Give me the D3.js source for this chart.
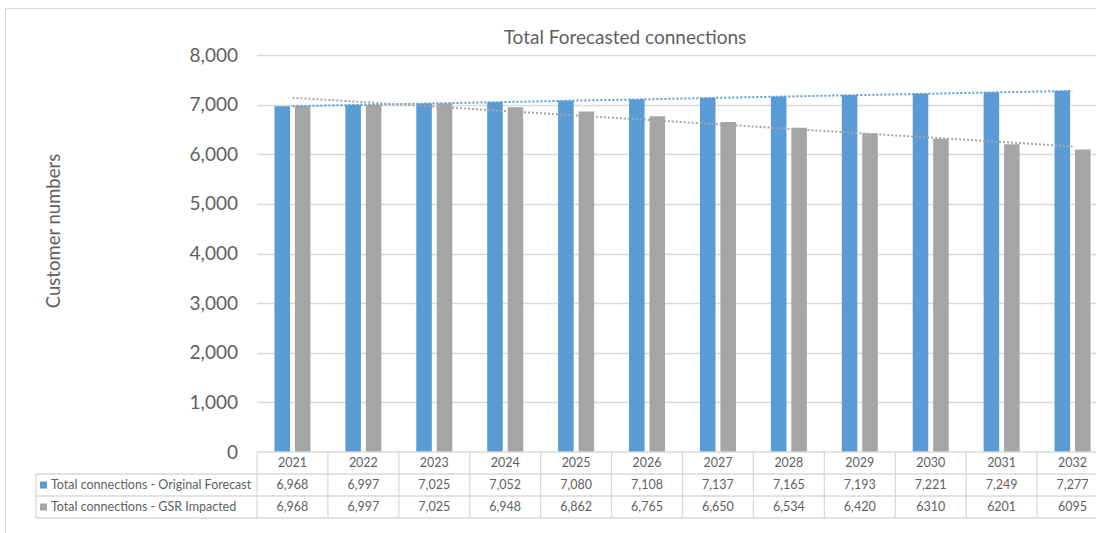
<!DOCTYPE html>
<html>
<head>
<meta charset="utf-8">
<script src="https://cdn.jsdelivr.net/npm/d3@7"></script>
<style>
  html, body { margin: 0; padding: 0; background: #fff; overflow: hidden; }
  text { font-family: Lato, "Open Sans", sans-serif; fill: #5f5f5f; }
</style>
</head>
<body>
<svg id="mainFrame"></svg>
<script>
const years = ['2021', '2022', '2023', '2024', '2025', '2026', '2027', '2028', '2029', '2030', '2031', '2032'];
const originalForecast = [6968, 6997, 7025, 7052, 7080, 7108, 7137, 7165, 7193, 7221, 7249, 7277];
const gsrImpacted = [6968, 6997, 7025, 6948, 6862, 6765, 6650, 6534, 6420, 6310, 6201, 6095];
// labels as printed in the data table (last three have no thousands separator)
const gsrLabels = ['6,968', '6,997', '7,025', '6,948', '6,862', '6,765', '6,650', '6,534', '6,420', '6310', '6201', '6095'];
const seriesNames = ['Total connections - Original Forecast', 'Total connections - GSR Impacted'];
const yTicks = [0, 1000, 2000, 3000, 4000, 5000, 6000, 7000, 8000];

const colors = ['#5B9BD5', '#A5A5A5'];
const W = 1096, H = 533;

const svg = d3.select('#mainFrame')
    .attr('width', W)
    .attr('height', H);

// outer chart border (chart is cropped on the right/bottom)
svg.append('rect')
    .attr('x', 5.5).attr('y', 8.5)
    .attr('width', 1200).attr('height', 600)
    .attr('fill', 'none')
    .attr('stroke', '#D9D9D9');

const plot = { left: 257, right: 1108, top: 55, bottom: 452 };

const xScale = d3.scaleBand()
    .domain(years)
    .range([plot.left, plot.right])
    .padding(0);

const yScale = d3.scaleLinear()
    .domain([0, 8000])
    .range([plot.bottom, plot.top]);

const groupW = 36;
const x1 = d3.scaleBand()
    .domain([0, 1])
    .range([0, groupW])
    .paddingInner(0.24);

// gridlines
svg.append('g')
    .selectAll('line').data(yTicks.filter(d => d > 0))
    .enter().append('line')
        .attr('x1', plot.left).attr('x2', W + 20)
        .attr('y1', d => Math.round(yScale(d)) + 0.5)
        .attr('y2', d => Math.round(yScale(d)) + 0.5)
        .attr('stroke', '#D9D9D9')
        .attr('stroke-width', 1.3);

// y axis labels
const yAxis = d3.axisLeft(yScale)
    .tickValues(yTicks)
    .tickFormat(d3.format(','))
    .tickSize(0)
    .tickPadding(19);

const yAxisGroup = svg.append('g')
    .attr('transform', `translate(${plot.left},0)`)
    .call(yAxis);
yAxisGroup.select('.domain').remove();
yAxisGroup.selectAll('text')
    .attr('font-size', 19)
    .attr('font-family', 'Lato, sans-serif')
    .attr('fill', '#5f5f5f');

// bars
const seriesData = [originalForecast, gsrImpacted];
seriesData.forEach((vals, si) => {
    svg.append('g')
        .selectAll('rect').data(vals)
        .enter().append('rect')
            .attr('x', (d, i) => xScale(years[i]) + (xScale.bandwidth() - groupW) / 2 + x1(si))
            .attr('width', x1.bandwidth())
            .attr('y', d => yScale(d))
            .attr('height', d => plot.bottom - yScale(d))
            .attr('fill', colors[si]);
});

// linear trendlines
seriesData.forEach((vals, si) => {
    const xs = vals.map((d, i) => i + 1);
    const mx = d3.mean(xs), my = d3.mean(vals);
    const slope = d3.sum(xs, (x, i) => (x - mx) * (vals[i] - my)) / d3.sum(xs, x => (x - mx) ** 2);
    const icpt = my - slope * mx;
    const pts = [1, vals.length].map(x => [xScale(years[x - 1]) + xScale.bandwidth() / 2, yScale(icpt + slope * x)]);
    svg.append('path')
        .attr('d', d3.line()(pts))
        .attr('fill', 'none')
        .attr('stroke', colors[si])
        .attr('stroke-width', 2)
        .attr('stroke-dasharray', '2,2');
});

// title
svg.append('text')
    .attr('x', 625).attr('y', 44)
    .attr('text-anchor', 'middle')
    .attr('font-size', 19)
    .text('Total Forecasted connections');

// y axis title
svg.append('text')
    .attr('transform', 'translate(60,231) rotate(-90)')
    .attr('text-anchor', 'middle')
    .attr('font-size', 18.5)
    .text('Customer numbers');

// data table
const rows = [plot.bottom, 474, 496, 518];
const tableLeft = 36;
const grid = svg.append('g').attr('stroke', '#D9D9D9').attr('stroke-width', 1.3);

// horizontal lines
grid.append('line').attr('x1', plot.left).attr('x2', W + 20).attr('y1', rows[0]).attr('y2', rows[0]);
rows.slice(1).forEach(y => {
    grid.append('line').attr('x1', tableLeft).attr('x2', W + 20).attr('y1', y).attr('y2', y);
});
// vertical lines
grid.append('line').attr('x1', tableLeft).attr('x2', tableLeft).attr('y1', rows[1]).attr('y2', rows[3]);
years.forEach(y => {
    const x = xScale(y);
    grid.append('line').attr('x1', x).attr('x2', x).attr('y1', rows[0]).attr('y2', rows[3]);
});

const cellText = (x, yTop, yBot, txt) => svg.append('text')
    .attr('x', x).attr('y', (yTop + yBot) / 2)
    .attr('dy', '0.35em')
    .attr('text-anchor', 'middle')
    .attr('font-size', 12.5)
    .text(txt);

years.forEach((y, i) => {
    const cx = xScale(y) + xScale.bandwidth() / 2;
    cellText(cx, rows[0], rows[1], y);
    cellText(cx, rows[1], rows[2], d3.format(',')(originalForecast[i]));
    cellText(cx, rows[2], rows[3], gsrLabels[i]);
});

// legend keys + series names
seriesNames.forEach((name, i) => {
    const yc = (rows[i + 1] + rows[i + 2]) / 2;
    svg.append('rect')
        .attr('x', 40).attr('y', yc - 3.5)
        .attr('width', 7).attr('height', 7)
        .attr('fill', colors[i]);
    svg.append('text')
        .attr('x', 51).attr('y', yc)
        .attr('dy', '0.35em')
        .attr('font-size', 12.5)
        .text(name);
});
</script>
</body>
</html>
